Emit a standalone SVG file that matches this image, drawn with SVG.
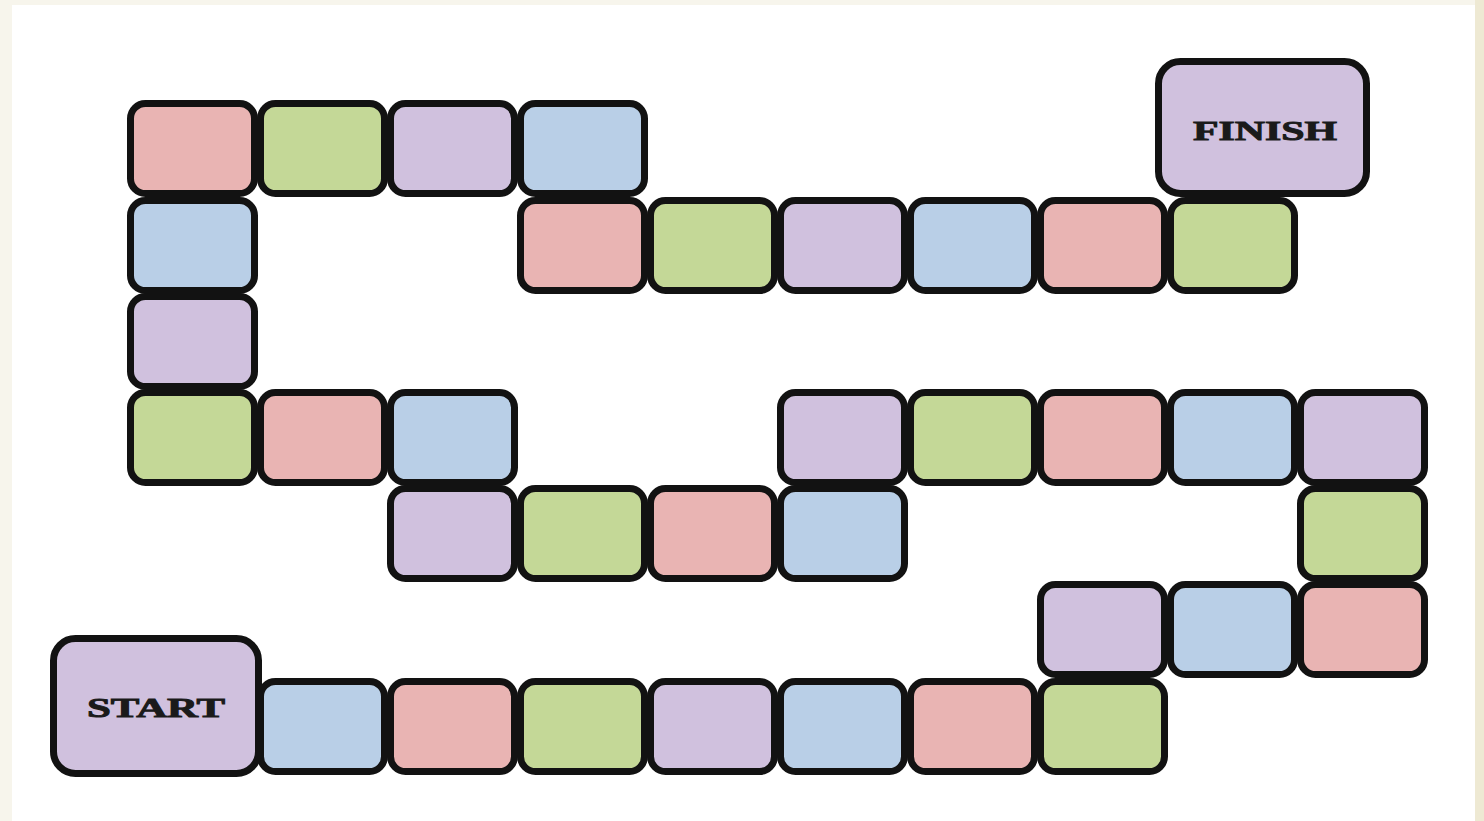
<svg xmlns="http://www.w3.org/2000/svg" width="1484" height="821" viewBox="0 0 1484 821">
<style>
.t{stroke:#121212;stroke-width:7;}
.pk{fill:#e9b4b3;}
.gr{fill:#c4d897;}
.pu{fill:#d0c1de;}
.bl{fill:#b9cfe7;}
.lbl{font-family:"Liberation Serif","DejaVu Serif",serif;font-weight:bold;font-size:27px;fill:#1a1a1a;stroke:#1a1a1a;stroke-width:0.9;text-anchor:middle;}
</style>
<defs>
<rect id="tile" width="124" height="90" rx="15" ry="15"/>
</defs>
<rect x="0" y="0" width="1484" height="821" fill="#f7f5ec"/>
<rect x="1475" y="0" width="9" height="821" fill="#eee9d3"/>
<rect x="12" y="5" width="1463" height="816" fill="#ffffff"/>
<g id="board">
<g id="a0"><use href="#tile" x="130.5" y="103.5" class="t pk"/></g>
<g id="a1"><use href="#tile" x="260.5" y="103.5" class="t gr"/></g>
<g id="a2"><use href="#tile" x="390.5" y="103.5" class="t pu"/></g>
<g id="a3"><use href="#tile" x="520.5" y="103.5" class="t bl"/></g>
<g id="b0"><use href="#tile" x="130.5" y="200.5" class="t bl"/></g>
<g id="b3"><use href="#tile" x="520.5" y="200.5" class="t pk"/></g>
<g id="b4"><use href="#tile" x="650.5" y="200.5" class="t gr"/></g>
<g id="b5"><use href="#tile" x="780.5" y="200.5" class="t pu"/></g>
<g id="b6"><use href="#tile" x="910.5" y="200.5" class="t bl"/></g>
<g id="b7"><use href="#tile" x="1040.5" y="200.5" class="t pk"/></g>
<g id="b8"><use href="#tile" x="1170.5" y="200.5" class="t gr"/></g>
<g id="c0"><use href="#tile" x="130.5" y="296.5" class="t pu"/></g>
<g id="d0"><use href="#tile" x="130.5" y="392.5" class="t gr"/></g>
<g id="d1"><use href="#tile" x="260.5" y="392.5" class="t pk"/></g>
<g id="d2"><use href="#tile" x="390.5" y="392.5" class="t bl"/></g>
<g id="d5"><use href="#tile" x="780.5" y="392.5" class="t pu"/></g>
<g id="d6"><use href="#tile" x="910.5" y="392.5" class="t gr"/></g>
<g id="d7"><use href="#tile" x="1040.5" y="392.5" class="t pk"/></g>
<g id="d8"><use href="#tile" x="1170.5" y="392.5" class="t bl"/></g>
<g id="d9"><use href="#tile" x="1300.5" y="392.5" class="t pu"/></g>
<g id="e2"><use href="#tile" x="390.5" y="488.5" class="t pu"/></g>
<g id="e3"><use href="#tile" x="520.5" y="488.5" class="t gr"/></g>
<g id="e4"><use href="#tile" x="650.5" y="488.5" class="t pk"/></g>
<g id="e5"><use href="#tile" x="780.5" y="488.5" class="t bl"/></g>
<g id="e9"><use href="#tile" x="1300.5" y="488.5" class="t gr"/></g>
<g id="f7"><use href="#tile" x="1040.5" y="584.5" class="t pu"/></g>
<g id="f8"><use href="#tile" x="1170.5" y="584.5" class="t bl"/></g>
<g id="f9"><use href="#tile" x="1300.5" y="584.5" class="t pk"/></g>
<g id="g1"><use href="#tile" x="260.5" y="681.5" class="t bl"/></g>
<g id="g2"><use href="#tile" x="390.5" y="681.5" class="t pk"/></g>
<g id="g3"><use href="#tile" x="520.5" y="681.5" class="t gr"/></g>
<g id="g4"><use href="#tile" x="650.5" y="681.5" class="t pu"/></g>
<g id="g5"><use href="#tile" x="780.5" y="681.5" class="t bl"/></g>
<g id="g6"><use href="#tile" x="910.5" y="681.5" class="t pk"/></g>
<g id="g7"><use href="#tile" x="1040.5" y="681.5" class="t gr"/></g>
</g>
<g id="start">
<rect x="53.5" y="638.5" width="205" height="135" rx="22" ry="22" class="t pu"/>
<text x="156" y="717" class="lbl" textLength="138" lengthAdjust="spacingAndGlyphs">START</text>
</g>
<g id="finish">
<rect x="1158.5" y="61.5" width="208" height="132" rx="22" ry="22" class="t pu"/>
<text x="1265" y="140" class="lbl" textLength="144" lengthAdjust="spacingAndGlyphs">FINISH</text>
</g>
<g id="connectors"></g>
</svg>
